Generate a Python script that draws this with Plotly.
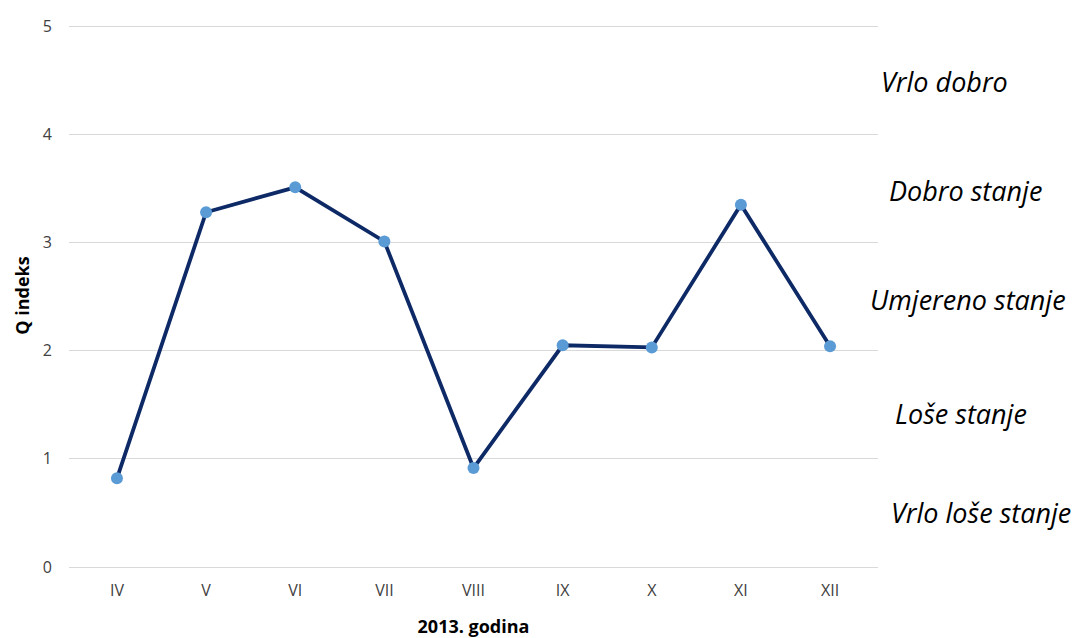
import plotly.graph_objects as go

months = ["IV", "V", "VI", "VII", "VIII", "IX", "X", "XI", "XII"]
q_index = [0.82, 3.28, 3.51, 3.01, 0.915, 2.05, 2.03, 3.35, 2.04]

class_labels = ["Vrlo dobro", "Dobro stanje", "Umjereno stanje", "Loše stanje", "Vrlo loše stanje"]
class_y = [4.49, 3.48, 2.47, 1.42, 0.5]
class_x = [1.082, 1.108, 1.111, 1.103, 1.127]

fig = go.Figure()
fig.add_trace(go.Scatter(
    x=months, y=q_index, mode="lines+markers",
    line=dict(color="#0e2a66", width=3.8),
    marker=dict(color="#5b9bd5", size=12),
    showlegend=False,
))

for t, yv, xv in zip(class_labels, class_y, class_x):
    fig.add_annotation(text="<i>" + t + "</i>", x=xv, y=yv, xref="paper", yref="y",
                       showarrow=False, xanchor="center", yanchor="middle",
                       font=dict(family="Open Sans", size=27, color="#000000"))

fig.update_layout(
    width=1071, height=630,
    margin=dict(l=61, r=201, t=16, b=71, autoexpand=False),
    paper_bgcolor="white", plot_bgcolor="white",
    font=dict(family="Open Sans", color="#404040"),
    xaxis=dict(type="category", showgrid=False, showline=False, zeroline=False, automargin=False,
               tickfont=dict(size=16, color="#404040"), ticks="", ticklabelstandoff=12,
               title=dict(text="<b>2013. godina</b>", font=dict(size=18, color="#000000"), standoff=20)),
    yaxis=dict(range=[0, 5.02], tickvals=[0, 1, 2, 3, 4, 5], showgrid=True, gridcolor="#d9d9d9", gridwidth=1,
               zeroline=True, zerolinecolor="#d9d9d9", zerolinewidth=1, automargin=False,
               tickfont=dict(size=16, color="#404040"), ticks="", ticklabelstandoff=16,
               title=dict(text="<b>Q indeks</b>", font=dict(size=18, color="#000000"), standoff=8)),
)

fig.write_html("out.html")
